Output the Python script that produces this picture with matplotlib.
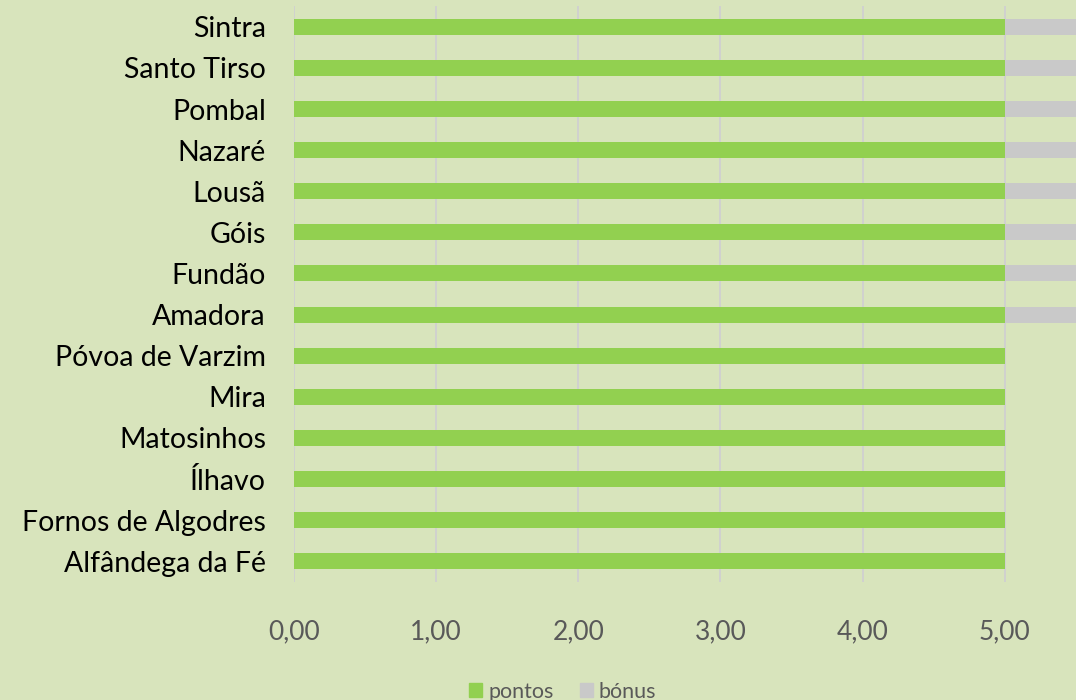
import matplotlib.pyplot as plt
from matplotlib.patches import Patch

municipios = ["Alfândega da Fé", "Fornos de Algodres", "Ílhavo", "Matosinhos",
              "Mira", "Póvoa de Varzim", "Amadora", "Fundão", "Góis", "Lousã",
              "Nazaré", "Pombal", "Santo Tirso", "Sintra"]
pontos = [5, 5, 5, 5, 5, 5, 5, 5, 5, 5, 5, 5, 5, 5]
bonus = [0, 0, 0, 0, 0, 0, 0.5, 0.5, 0.5, 0.5, 0.5, 0.5, 0.5, 0.5]
ticks = [0, 1, 2, 3, 4, 5]

bg = "#D8E4BC"
verde = "#92D050"
cinza = "#C9C9C9"

plt.rcParams["font.family"] = ["Lato", "DejaVu Sans"]

fig = plt.figure(figsize=(10.76, 7), dpi=100, facecolor=bg)
ax = fig.add_axes([0.273, 0.169, 0.727, 0.822], facecolor=bg)

y = range(len(municipios))
ax.barh(y, pontos, height=0.39, color=verde, zorder=3)
ax.barh(y, bonus, left=pontos, height=0.39, color=cinza, zorder=3)

ax.set_xlim(0, 5.5)
ax.set_ylim(-0.5, len(municipios) - 0.5)
ax.set_yticks(list(y))
ax.set_yticklabels(municipios, fontsize=20.5, color="black")
ax.set_xticks(ticks)
ax.set_xticklabels([f"{t:.2f}".replace(".", ",") for t in ticks], fontsize=19, color="#595959")
ax.tick_params(axis="both", length=0)
ax.tick_params(axis="y", pad=20)
ax.tick_params(axis="x", pad=27)
ax.grid(axis="x", color="#D0D0D0", linewidth=1.3, zorder=0)
for s in ax.spines.values():
    s.set_visible(False)

handles = [Patch(color=verde, label="pontos"), Patch(color=cinza, label="bónus")]
fig.legend(handles=handles, loc="lower center", bbox_to_anchor=(0.523, -0.03), ncol=2,
           frameon=False, fontsize=15.5, labelcolor="#595959",
           handlelength=0.6, handleheight=0.6, handletextpad=0.3, columnspacing=1.2)

fig.savefig("out.png", dpi=100, facecolor=bg)
